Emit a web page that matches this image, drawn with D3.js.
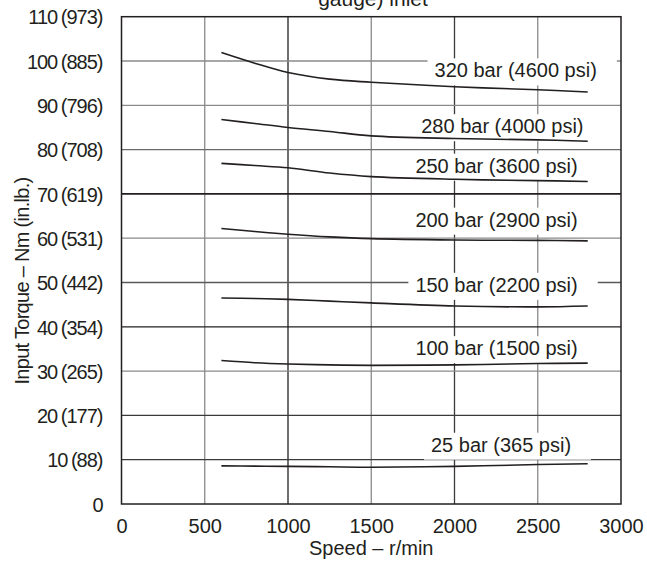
<!DOCTYPE html>
<html>
<head>
<meta charset="utf-8">
<script src="https://cdn.jsdelivr.net/npm/d3@7/dist/d3.min.js"></script>
<style>
  html, body { margin: 0; padding: 0; background: #fff; }
  svg { display: block; }
  text { font-family: "Liberation Sans", Arial, sans-serif; fill: #231f20; }
</style>
</head>
<body>
<svg id="chart" width="647" height="561"></svg>
<script>
// ---------- data ----------
const speeds = [600, 800, 1000, 1250, 1500, 2000, 2500, 2800];
const bar320 = [101.9, 99.5, 97.4, 95.9, 95.2, 94.2, 93.5, 93.0];
const bar280 = [86.8, 85.9, 85.0, 84.1, 83.1, 82.5, 82.2, 81.9];
const bar250 = [76.9, 76.4, 75.9, 74.7, 73.9, 73.3, 73.0, 72.8];
const bar200 = [62.2, 61.5, 60.9, 60.3, 59.9, 59.6, 59.5, 59.4];
const bar150 = [46.5, 46.4, 46.2, 45.8, 45.4, 44.7, 44.5, 44.7];
const bar100 = [32.4, 31.9, 31.6, 31.4, 31.3, 31.4, 31.7, 31.8];
const bar25  = [8.6, 8.55, 8.5, 8.4, 8.3, 8.5, 8.9, 9.1];
const seriesValues = [bar320, bar280, bar250, bar200, bar150, bar100, bar25];
const seriesLabels = ["320 bar (4600 psi)", "280 bar (4000 psi)", "250 bar (3600 psi)",
                      "200 bar (2900 psi)", "150 bar (2200 psi)", "100 bar (1500 psi)", "25 bar (365 psi)"];
// label anchor (right end of text, baseline) in data units
const labelSpeed  = [2855, 2775, 2740, 2740, 2740, 2740, 2700];
const labelTorque = [96.3, 83.7, 74.8, 62.6, 47.9, 33.6, 11.8];

const xTicks = [0, 500, 1000, 1500, 2000, 2500, 3000];
const yTicks = [0, 10, 20, 30, 40, 50, 60, 70, 80, 90, 100, 110];
const yTicksInLb = [null, 88, 177, 265, 354, 442, 531, 619, 708, 796, 885, 973];
const xTitle = "Speed – r/min";
const yTitle = "Input Torque – Nm (in.lb.)";
const topTitle = "gauge) inlet";

// ---------- layout ----------
const svg = d3.select("#chart");
const L = 121.5, R = 621, T = 16.7, B = 504;
const x = d3.scaleLinear().domain([0, 3000]).range([L, R]);
const y = d3.scaleLinear().domain([0, 110]).range([B, T]);

// grid colours
const vGridColor = {500: "#8a8a8a", 1000: "#231f20", 1500: "#8a8a8a", 2000: "#3a3a3a", 2500: "#8a8a8a"};
const hGridColor = {10: "#3a3a3a", 20: "#3a3a3a", 30: "#8a8a8a", 40: "#231f20", 50: "#5a5a5a",
                    60: "#8a8a8a", 70: "#231f20", 80: "#6a6a6a", 90: "#8a8a8a", 100: "#8a8a8a"};

const grid = svg.append("g");
grid.selectAll("line.v").data(xTicks.filter(d => d > 0 && d < 3000)).join("line")
  .attr("x1", d => x(d)).attr("x2", d => x(d)).attr("y1", T).attr("y2", B)
  .attr("stroke", d => vGridColor[d]).attr("stroke-width", 1.3);
grid.selectAll("line.h").data(yTicks.filter(d => d > 0 && d < 110)).join("line")
  .attr("x1", L).attr("x2", R).attr("y1", d => y(d)).attr("y2", d => y(d))
  .attr("stroke", d => hGridColor[d]).attr("stroke-width", d => d === 70 ? 1.8 : 1.3);

// label boxes (white) hiding grid, below curves
const boxG = svg.append("g");
const curveG = svg.append("g");
const labelG = svg.append("g");
const labels = seriesLabels.map((t, i) => ({t, sx: labelSpeed[i], v: labelTorque[i]}));
const texts = labelG.selectAll("text").data(labels).join("text")
  .attr("x", d => x(d.sx)).attr("y", d => y(d.v))
  .attr("text-anchor", "end").attr("font-size", 20).text(d => d.t);
texts.each(function(d) {
  const bb = this.getBBox();
  boxG.append("rect")
    .attr("x", bb.x - 7).attr("y", y(d.v) - 19)
    .attr("width", bb.width + 27).attr("height", 27)
    .attr("fill", "#fff");
});

// frame
svg.append("rect").attr("x", L).attr("y", T).attr("width", R - L).attr("height", B - T)
  .attr("fill", "none").attr("stroke", "#231f20").attr("stroke-width", 1.5);

// curves
const line = d3.line().x((d, i) => x(speeds[i])).y(d => y(d)).curve(d3.curveCatmullRom.alpha(0.5));
curveG.selectAll("path").data(seriesValues).join("path")
  .attr("d", d => line(d)).attr("fill", "none").attr("stroke", "#231f20").attr("stroke-width", 1.6);

// x axis
const xAxis = d3.axisBottom(x).tickValues(xTicks).tickSize(0).tickPadding(0).tickFormat(d3.format("d"));
const xg = svg.append("g").attr("transform", `translate(0,${B})`).call(xAxis);
xg.select(".domain").remove();
xg.selectAll("text").attr("font-size", 20).attr("fill", "#231f20")
  .attr("font-family", "Liberation Sans, Arial, sans-serif").attr("dy", null).attr("y", 29);

// y axis
const yAxis = d3.axisLeft(y).tickValues(yTicks).tickSize(0).tickPadding(0)
  .tickFormat((d, i) => yTicksInLb[i] == null ? String(d) : `${d} (${yTicksInLb[i]})`);
const yg = svg.append("g").attr("transform", `translate(${L - 19},0)`).call(yAxis);
yg.select(".domain").remove();
yg.selectAll("text").attr("font-size", 20).attr("fill", "#231f20")
  .attr("font-family", "Liberation Sans, Arial, sans-serif").attr("x", 0).attr("dy", "0.36em")
  .attr("letter-spacing", -1).attr("word-spacing", -1);

// titles
svg.append("text").attr("x", (L + R) / 2).attr("y", 555).attr("text-anchor", "middle")
  .attr("font-size", 20).text(xTitle);
svg.append("text").attr("transform", `translate(29,${281}) rotate(-90)`).attr("text-anchor", "middle")
  .attr("font-size", 20).attr("letter-spacing", -0.7).text(yTitle);
svg.append("text").attr("x", 373).attr("y", 6).attr("text-anchor", "middle")
  .attr("font-size", 21).text(topTitle);
</script>
</body>
</html>
